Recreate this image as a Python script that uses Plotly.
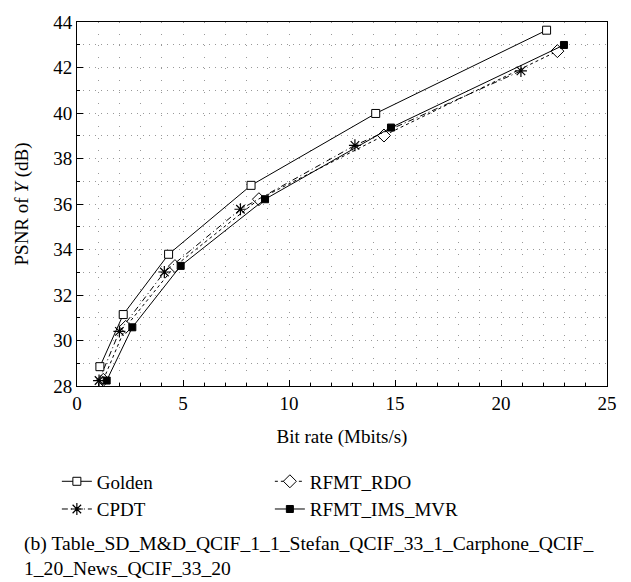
import plotly.graph_objects as go

golden_x = [1.08, 2.18, 4.32, 8.21, 14.09, 22.15]
golden_y = [28.85, 31.14, 33.79, 36.82, 39.98, 43.64]
cpdt_x = [1.04, 2.00, 4.12, 7.71, 13.11, 20.94]
cpdt_y = [28.24, 30.40, 33.01, 35.77, 38.58, 41.85]
rdo_x = [1.24, 2.30, 4.62, 8.58, 14.48, 22.66]
rdo_y = [28.27, 30.60, 33.27, 36.21, 39.01, 42.72]
ims_x = [1.40, 2.61, 4.89, 8.87, 14.81, 22.97]
ims_y = [28.24, 30.58, 33.28, 36.21, 39.36, 42.99]

x_ticks = [0, 5, 10, 15, 20, 25]
y_ticks = [28, 30, 32, 34, 36, 38, 40, 42, 44]

FONT = "Liberation Serif"
FS = 19
fig = go.Figure()

fig.add_trace(go.Scatter(
    x=golden_x, y=golden_y, name="Golden", mode="lines+markers",
    line=dict(color="black", width=1),
    marker=dict(symbol="square", size=8, color="white", line=dict(color="black", width=1)),
    legendrank=1))
fig.add_trace(go.Scatter(
    x=rdo_x, y=rdo_y, name="RFMT_RDO", mode="lines+markers",
    line=dict(color="black", width=1, dash="dot"),
    marker=dict(symbol="diamond", size=10, color="white", line=dict(color="black", width=1)),
    legendrank=2))
fig.add_trace(go.Scatter(
    x=cpdt_x, y=cpdt_y, name="CPDT", mode="lines+markers",
    line=dict(color="black", width=1, dash="6px,3px,1px,3px"),
    marker=dict(symbol="asterisk-open", size=10, color="black", line=dict(color="black", width=1.2)),
    legendrank=3))
fig.add_trace(go.Scatter(
    x=ims_x, y=ims_y, name="RFMT_IMS_MVR", mode="lines+markers",
    line=dict(color="black", width=1),
    marker=dict(symbol="square", size=7, color="black", line=dict(color="black", width=1)),
    legendrank=4))

grid_col = "#999999"
fig.update_xaxes(
    range=[0, 25], tickvals=x_ticks, ticktext=[str(v) for v in x_ticks],
    ticks="inside", ticklen=6, tickcolor="black",
    showline=True, linecolor="black", linewidth=1, mirror=True,
    showgrid=True, gridcolor=grid_col, griddash="1px,10.6px", gridwidth=1,
    minor=dict(dtick=1, ticks="inside", ticklen=3, tickcolor="black",
               showgrid=True, gridcolor=grid_col, griddash="1px,10.6px", gridwidth=1),
    zeroline=False,
    title=dict(text="Bit rate (Mbits/s)", font=dict(family=FONT, size=FS, color="black"), standoff=16),
    tickfont=dict(family=FONT, size=FS, color="black"),
)
fig.update_yaxes(
    range=[28, 44], tickvals=y_ticks, ticktext=[str(v) for v in y_ticks],
    ticks="inside", ticklen=6, tickcolor="black",
    showline=True, linecolor="black", linewidth=1, mirror=True,
    showgrid=True, gridcolor=grid_col, griddash="1px,5px", gridwidth=1,
    minor=dict(dtick=1, ticks="inside", ticklen=3, tickcolor="black",
               showgrid=True, gridcolor=grid_col, griddash="1px,5px", gridwidth=1),
    zeroline=False,
    title=dict(text="PSNR of <i>Y</i> (dB)", font=dict(family=FONT, size=FS, color="black"), standoff=19),
    tickfont=dict(family=FONT, size=FS, color="black"),
)

fig.update_layout(
    width=631, height=582,
    margin=dict(l=77, r=24, t=14, b=196),
    paper_bgcolor="white", plot_bgcolor="white",
    font=dict(family=FONT, size=FS, color="black"),
    showlegend=True,
    legend=dict(orientation="h", x=-0.038, y=-0.21, xanchor="left", yanchor="top",
                entrywidthmode="pixels", entrywidth=168,
                font=dict(family=FONT, size=FS, color="black"),
                tracegroupgap=0, itemwidth=30, bgcolor="rgba(0,0,0,0)"),
    annotations=[dict(
        text="(b) Table_SD_M&amp;D_QCIF_1_1_Stefan_QCIF_33_1_Carphone_QCIF_<br>1_20_News_QCIF_33_20",
        xref="paper", yref="paper", x=-0.104, y=-0.398, xanchor="left", yanchor="top",
        align="left", showarrow=False, font=dict(family=FONT, size=19.6, color="black"))],
)

fig.write_html("out.html")
